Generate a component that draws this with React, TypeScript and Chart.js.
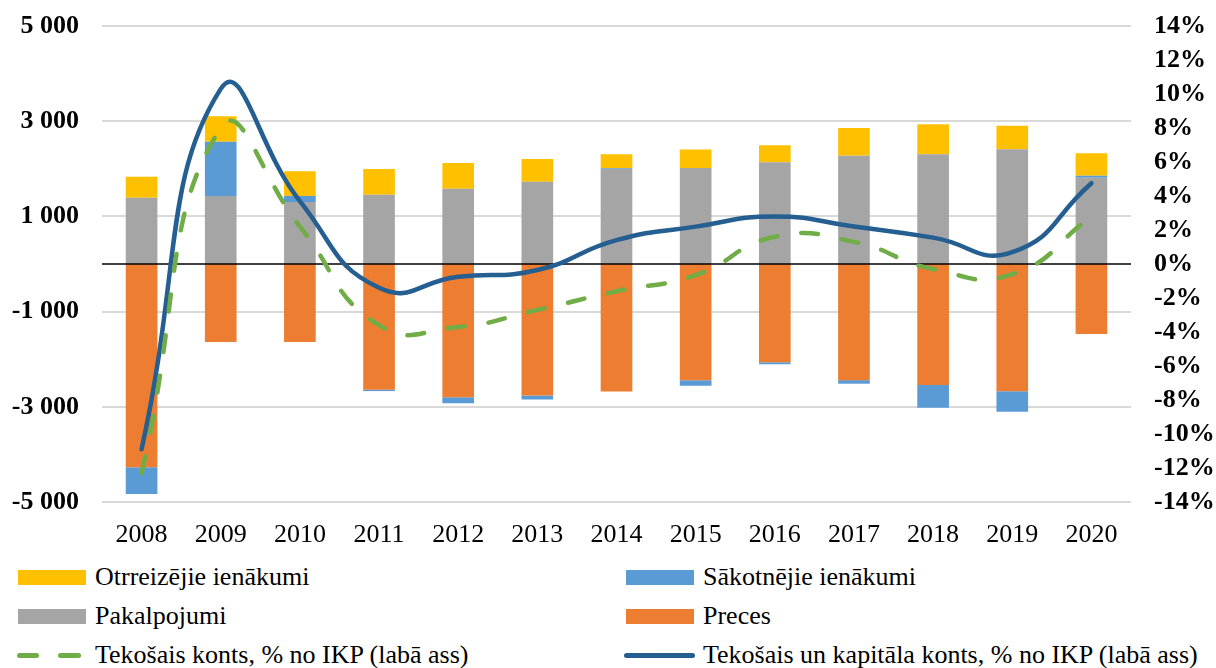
import React, { useEffect, useRef } from 'react';
import { Chart, registerables } from 'chart.js';

Chart.register(...registerables);

const years = ['2008', '2009', '2010', '2011', '2012', '2013', '2014', '2015', '2016', '2017', '2018', '2019', '2020'];

const preces = [-4270, -1640, -1640, -2640, -2800, -2760, -2680, -2440, -2065, -2440, -2540, -2675, -1470];
const pakalpojumi = [1390, 1430, 1300, 1455, 1580, 1730, 2000, 2015, 2140, 2275, 2305, 2410, 1810];
const sakotnejie = [-560, 1140, 130, -30, -125, -85, 15, -120, -40, -75, -480, -430, 42];
const otrreizejie = [441, 533, 519, 540, 540, 476, 290, 392, 357, 582, 630, 497, 477];

const tekosaisKonts = [-12.3, 8.0, 2.2, -3.6, -3.7, -2.7, -1.6, -0.65, 1.6, 1.3, -0.3, -0.6, 2.8];
const kapitalaKonts = [-10.9, 10.3, 3.7, -1.4, -0.75, -0.35, 1.4, 2.2, 2.8, 2.2, 1.55, 0.7, 4.75];

const leftTicks = [-5000, -3000, -1000, 1000, 3000, 5000];
const rightTicks = [-14, -12, -10, -8, -6, -4, -2, 0, 2, 4, 6, 8, 10, 12, 14];

const FONT = "'Liberation Serif', 'Times New Roman', serif";

const C_ORANGE = '#ED7D31';
const C_GREY = '#A5A5A5';
const C_LBLUE = '#5B9BD5';
const C_YELLOW = '#FFC000';
const C_GREEN = '#70AD47';
const C_DBLUE = '#255E91';

function fmtThousands(v: number): string {
  const s = Math.abs(v).toString().replace(/\B(?=(\d{3})+(?!\d))/g, ' ');
  return (v < 0 ? '-' : '') + s;
}

export default function App() {
  const ref = useRef<HTMLCanvasElement | null>(null);

  useEffect(() => {
    if (!ref.current) return;
    const zeroLine = {
      id: 'zeroLine',
      afterDatasetDraw(chart: any, args: any) {
        if (args.index !== 0) return;
        const ctx = chart.ctx;
        const y = chart.scales.y.getPixelForValue(0);
        const { left, right } = chart.chartArea;
        ctx.save();
        ctx.strokeStyle = '#000';
        ctx.lineWidth = 1.6;
        ctx.beginPath();
        ctx.moveTo(left, y);
        ctx.lineTo(right, y);
        ctx.stroke();
        ctx.restore();
      },
    };

    const barCommon = {
      type: 'bar' as const,
      yAxisID: 'y',
      stack: 's',
      barPercentage: 0.5,
      categoryPercentage: 0.8,
      order: 1,
      borderWidth: 0,
    };

    const chart = new Chart(ref.current, {
      type: 'bar',
      data: {
        labels: years,
        datasets: [
          { ...barCommon, label: 'Preces', data: preces, backgroundColor: C_ORANGE },
          { ...barCommon, label: 'Pakalpojumi', data: pakalpojumi, backgroundColor: C_GREY },
          { ...barCommon, label: 'Sākotnējie ienākumi', data: sakotnejie, backgroundColor: C_LBLUE },
          { ...barCommon, label: 'Otrreizējie ienākumi', data: otrreizejie, backgroundColor: C_YELLOW },
          {
            type: 'line',
            label: 'Tekošais konts, % no IKP (labā ass)',
            data: tekosaisKonts,
            yAxisID: 'y1',
            borderColor: C_GREEN,
            borderWidth: 4.5,
            borderDash: [17, 24],
            borderCapStyle: 'round',
            pointRadius: 0,
            tension: 0.5,
            fill: false,
            order: 0,
          } as any,
          {
            type: 'line',
            label: 'Tekošais un kapitāla konts, % no IKP (labā ass)',
            data: kapitalaKonts,
            yAxisID: 'y1',
            borderColor: C_DBLUE,
            borderWidth: 4.5,
            borderCapStyle: 'round',
            pointRadius: 0,
            tension: 0.5,
            fill: false,
            order: 0,
          } as any,
        ],
      },
      options: {
        responsive: false,
        animation: false,
        layout: { padding: { top: 26, left: 0, right: 0, bottom: 0 } },
        plugins: {
          legend: { display: false },
          tooltip: { enabled: false },
        },
        scales: {
          x: {
            stacked: true,
            grid: { display: false },
            border: { display: false },
            ticks: {
              color: '#000',
              padding: 10,
              maxRotation: 0,
              autoSkip: false,
              font: { family: FONT, size: 26 },
            },
            afterFit(scale: any) {
              scale.height = 48;
              scale.paddingLeft = 0;
              scale.paddingRight = 0;
            },
          },
          y: {
            stacked: true,
            position: 'left',
            min: -5000,
            max: 5000,
            afterBuildTicks(scale: any) {
              scale.ticks = leftTicks.map((v) => ({ value: v }));
            },
            grid: { color: '#d9d9d9', lineWidth: 2, drawTicks: false },
            border: { display: false },
            ticks: {
              color: '#000',
              padding: 23,
              autoSkip: false,
              font: { family: FONT, size: 26, weight: 'bold' },
              callback: (v: any) => fmtThousands(Number(v)),
            },
            afterFit(scale: any) {
              scale.width = 102;
              scale.paddingTop = 0;
              scale.paddingBottom = 0;
            },
          },
          y1: {
            position: 'right',
            min: -14,
            max: 14,
            afterBuildTicks(scale: any) {
              scale.ticks = rightTicks.map((v) => ({ value: v }));
            },
            grid: { display: false, drawTicks: false },
            border: { display: false },
            ticks: {
              color: '#000',
              padding: 23,
              autoSkip: false,
              font: { family: FONT, size: 26, weight: 'bold' },
              callback: (v: any) => `${v}%`,
            },
            afterFit(scale: any) {
              scale.width = 85;
              scale.paddingTop = 0;
              scale.paddingBottom = 0;
            },
          },
        },
      } as any,
      plugins: [zeroLine],
    });
    return () => chart.destroy();
  }, []);

  const textStyle: React.CSSProperties = {
    position: 'absolute',
    fontFamily: FONT,
    fontSize: 26,
    lineHeight: '30px',
    color: '#000',
    whiteSpace: 'nowrap',
  };

  const box = (left: number, cy: number, color: string) => (
    <div style={{ position: 'absolute', left, top: cy - 7.5, width: 68, height: 15, background: color }} />
  );

  const legendText = (left: number, cy: number, text: string) => (
    <div style={{ ...textStyle, left, top: cy - 15 }}>{text}</div>
  );

  return (
    <div style={{ position: 'absolute', left: 0, top: 0, width: 1216, height: 668, background: '#fff', overflow: 'hidden' }}>
      <div style={{ position: 'absolute', left: 0, top: 0, width: 1216, height: 550 }}>
        <canvas ref={ref} width={1216} height={550} style={{ display: 'block' }} />
      </div>
      {box(18, 577, C_YELLOW)}
      {legendText(95, 577, 'Otrreizējie ienākumi')}
      {box(626, 577, C_LBLUE)}
      {legendText(703, 577, 'Sākotnējie ienākumi')}
      {box(18, 616, C_GREY)}
      {legendText(95, 616, 'Pakalpojumi')}
      {box(626, 616, C_ORANGE)}
      {legendText(703, 616, 'Preces')}
      <div style={{ position: 'absolute', left: 17, top: 652.5, width: 22, height: 5, borderRadius: 3, background: C_GREEN }} />
      <div style={{ position: 'absolute', left: 58, top: 652.5, width: 23, height: 5, borderRadius: 3, background: C_GREEN }} />
      {legendText(95, 655, 'Tekošais konts, % no IKP (labā ass)')}
      <div style={{ position: 'absolute', left: 624, top: 652.5, width: 71, height: 5, borderRadius: 3, background: C_DBLUE }} />
      {legendText(703, 655, 'Tekošais un kapitāla konts, % no IKP (labā ass)')}
    </div>
  );
}
